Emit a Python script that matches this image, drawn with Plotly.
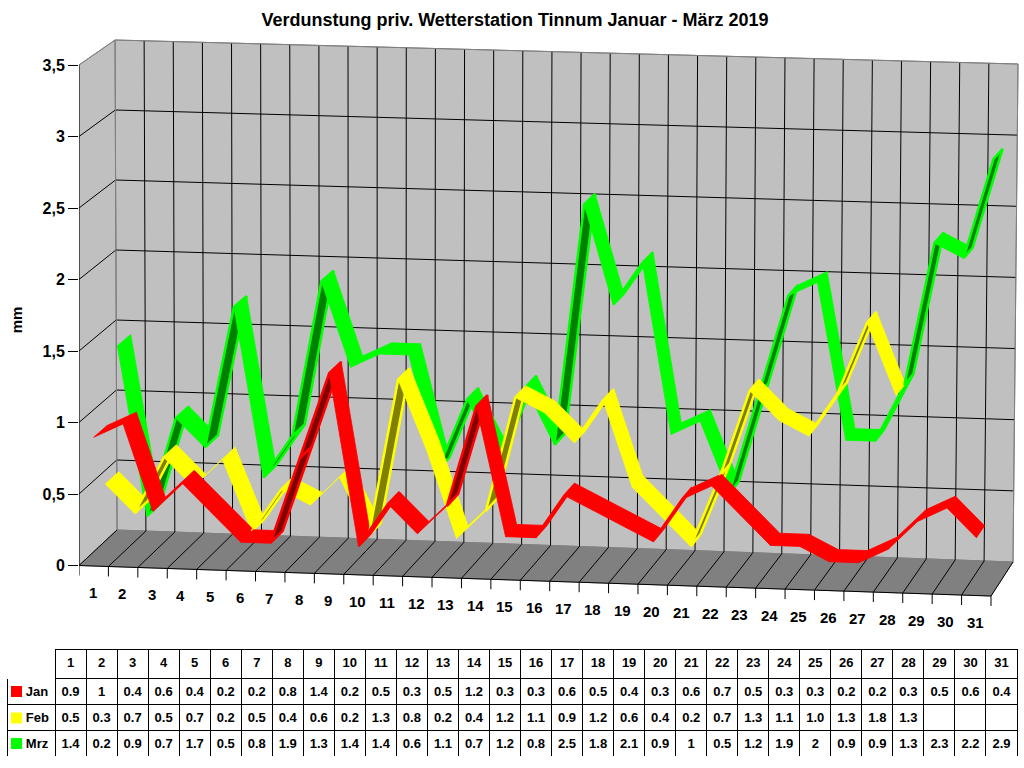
import plotly.graph_objects as go

days = list(range(1, 32))
jan = [0.9, 1, 0.4, 0.6, 0.4, 0.2, 0.2, 0.8, 1.4, 0.2, 0.5, 0.3, 0.5, 1.2, 0.3, 0.3,
       0.6, 0.5, 0.4, 0.3, 0.6, 0.7, 0.5, 0.3, 0.3, 0.2, 0.2, 0.3, 0.5, 0.6, 0.4]
feb = [0.5, 0.3, 0.7, 0.5, 0.7, 0.2, 0.5, 0.4, 0.6, 0.2, 1.3, 0.8, 0.2, 0.4, 1.2, 1.1,
       0.9, 1.2, 0.6, 0.4, 0.2, 0.7, 1.3, 1.1, 1.0, 1.3, 1.8, 1.3]
mrz = [1.4, 0.2, 0.9, 0.7, 1.7, 0.5, 0.8, 1.9, 1.3, 1.4, 1.4, 0.6, 1.1, 0.7, 1.2, 0.8,
       2.5, 1.8, 2.1, 0.9, 1, 0.5, 1.2, 1.9, 2, 0.9, 0.9, 1.3, 2.3, 2.2, 2.9]
months = ['Jan', 'Feb', 'Mrz']
series = [jan, feb, mrz]
colors = ['#ff0000', '#ffff00', '#00ff00']
dark_colors = ['#800000', '#808000', '#008000']
y_ticks = [0, 0.5, 1, 1.5, 2, 2.5, 3, 3.5]

FONT = 'Liberation Sans, Arial, sans-serif'
VMAX = 3.5
N = len(days)

# screen corners of the 3d box (bottom, top) in pixels
FL = ((79, 565.5), (79, 65))
FR = ((991, 596), (992, 91))
BL = ((117, 530), (115, 40))
BR = ((1013, 562), (1018, 64))
Y0 = 565.5
K = (565.5 - 65) / VMAX

# depth slot of each month (front -> back)
depth = [(0.0, 0.36), (0.31, 0.67), (0.64, 1.0)]


def lerp(a, b, t):
    return (a[0] + (b[0] - a[0]) * t, a[1] + (b[1] - a[1]) * t)


def proj_px(u, v, w):
    t = (u - 0.5) / N
    s = v / VMAX
    front = lerp(lerp(FL[0], FL[1], s), lerp(FR[0], FR[1], s), t)
    back = lerp(lerp(BL[0], BL[1], s), lerp(BR[0], BR[1], s), t)
    return lerp(front, back, w)


def proj(u, v, w):
    px, py = proj_px(u, v, w)
    return px, (Y0 - py) / K


def poly(points):
    xs, ys = [], []
    for p in points:
        x, y = proj(*p)
        xs.append(x)
        ys.append(y)
    xs.append(xs[0])
    ys.append(ys[0])
    return xs, ys


def segments(pairs):
    xs, ys = [], []
    for a, b in pairs:
        x1, y1 = proj(*a)
        x2, y2 = proj(*b)
        xs += [x1, x2, None]
        ys += [y1, y2, None]
    return xs, ys


fig = go.Figure()

# walls and floor
lo, hi = 0.5, N + 0.5
x, y = poly([(lo, 0, 1), (hi, 0, 1), (hi, VMAX, 1), (lo, VMAX, 1)])
fig.add_trace(go.Scatter(x=x, y=y, mode='lines', fill='toself', fillcolor='#c0c0c0',
                         line=dict(color='#808080', width=1)))
x, y = poly([(lo, 0, 0), (lo, VMAX, 0), (lo, VMAX, 1), (lo, 0, 1)])
fig.add_trace(go.Scatter(x=x, y=y, mode='lines', fill='toself', fillcolor='#c0c0c0',
                         line=dict(color='#808080', width=1)))
x, y = poly([(lo, 0, 0), (hi, 0, 0), (hi, 0, 1), (lo, 0, 1)])
fig.add_trace(go.Scatter(x=x, y=y, mode='lines', fill='toself', fillcolor='#808080',
                         line=dict(color='#808080', width=1)))

# grid
grid = []
for v in y_ticks[1:-1]:
    grid.append(((lo, v, 0), (lo, v, 1)))
    grid.append(((lo, v, 1), (hi, v, 1)))
for d in days[:-1]:
    grid.append(((d + 0.5, 0, 1), (d + 0.5, VMAX, 1)))
for d in [0] + days:
    grid.append(((d + 0.5, 0, 0), (d + 0.5, 0, 1)))
grid.append(((lo, 0, 0), (hi, 0, 0)))
grid.append(((lo, 0, 0), (lo, VMAX, 0)))
x, y = segments(grid)
fig.add_trace(go.Scatter(x=x, y=y, mode='lines', line=dict(color='black', width=1)))

# gray outer edges
x, y = segments([((lo, VMAX, 0), (lo, VMAX, 1)), ((lo, VMAX, 1), (hi, VMAX, 1)),
                 ((lo, 0, 1), (lo, VMAX, 1)), ((hi, 0, 1), (hi, VMAX, 1))])
fig.add_trace(go.Scatter(x=x, y=y, mode='lines', line=dict(color='#808080', width=1)))

# ticks under the front edge
tx, ty = [], []
for d in [0] + days:
    px, py = proj_px(d + 0.5, 0, 0)
    tx += [px, px, None]
    ty += [(Y0 - py) / K, (Y0 - py - 10) / K, None]
fig.add_trace(go.Scatter(x=tx, y=ty, mode='lines', line=dict(color='black', width=1)))

# ribbons: segment by segment from left to right, back series first
for i in range(N - 1):
    for k in [2, 1, 0]:
        vals = series[k]
        if i + 1 >= len(vals):
            continue
        w0, w1 = depth[k]
        u0, u1 = days[i], days[i + 1]
        a = proj_px(u0, vals[i], w0)
        b = proj_px(u1, vals[i + 1], w0)
        c = proj_px(u0, vals[i], w1)
        cross = (b[0] - a[0]) * (c[1] - a[1]) - (b[1] - a[1]) * (c[0] - a[0])
        x, y = poly([(u0, vals[i], w0), (u1, vals[i + 1], w0),
                     (u1, vals[i + 1], w1), (u0, vals[i], w1)])
        if cross > 0:
            fill, lw = dark_colors[k], 2.5
        else:
            fill, lw = colors[k], 0.8
        fig.add_trace(go.Scatter(x=x, y=y, mode='lines', fill='toself', fillcolor=fill,
                                 line=dict(color=colors[k], width=lw)))

fig.update_traces(hoverinfo='skip', showlegend=False)

# day labels along the front edge
for d in days:
    px, py = proj_px(d, 0, 0)
    fig.add_annotation(x=px - 1, y=(Y0 - py - 27) / K, text=str(d), showarrow=False,
                       font=dict(family=FONT, size=15, color='black', weight='bold'))

# table
cols = [["\u00a0\u00a0\u00a0" + m for m in months]]
for i in range(N):
    cols.append([str(s[i]) if i < len(s) else "" for s in series])

fig.add_trace(go.Table(
    domain=dict(x=[7 / 1024, 1017 / 1024], y=[12 / 768, 119 / 768]),
    columnwidth=[48] + [31] * N,
    header=dict(values=[""] + [str(d) for d in days], height=29,
                align='center', fill_color='white',
                line=dict(color=['white'] + ['black'] * N, width=1),
                font=dict(family=FONT, size=13, color='black', weight='bold')),
    cells=dict(values=cols, height=26, align=['left'] + ['center'] * N,
               fill_color='white', line=dict(color='black', width=1),
               font=dict(family=FONT, size=13, color='black', weight='bold'))))

# legend keys in the table
row_mid = [691.5, 718, 743.5]
for c, ym in zip(colors, row_mid):
    fig.add_shape(type='rect', xref='paper', yref='paper',
                  x0=11 / 1024, x1=22 / 1024, y0=1 - (ym + 5.5) / 768, y1=1 - (ym - 5.5) / 768,
                  fillcolor=c, line=dict(width=0))

fig.update_layout(
    width=1024, height=768, autosize=False,
    margin=dict(l=0, r=0, t=0, b=0),
    paper_bgcolor='white', plot_bgcolor='white',
    separators=',.',
    title=dict(text='Verdunstung priv. Wetterstation Tinnum Januar - März 2019',
               x=0.503, xanchor='center', y=1 - 20 / 768, yanchor='middle',
               font=dict(family=FONT, size=18, color='black', weight='bold')),
    xaxis=dict(domain=[79 / 1024, 1], range=[79, 1024], visible=False, fixedrange=True),
    yaxis=dict(domain=[128 / 768, 1], range=[(Y0 - 640) / K, Y0 / K], fixedrange=True,
               tickvals=y_ticks, ticks='outside', ticklen=10, tickcolor='black',
               showgrid=False, zeroline=False, showline=False,
               tickfont=dict(family=FONT, size=16, color='black', weight='bold'),
               title=dict(text='mm', standoff=16,
                          font=dict(family=FONT, size=15, color='black', weight='bold'))),
)

fig.write_html("out.html", config={'displayModeBar': False},
               post_script="document.body.style.margin='0px';")
